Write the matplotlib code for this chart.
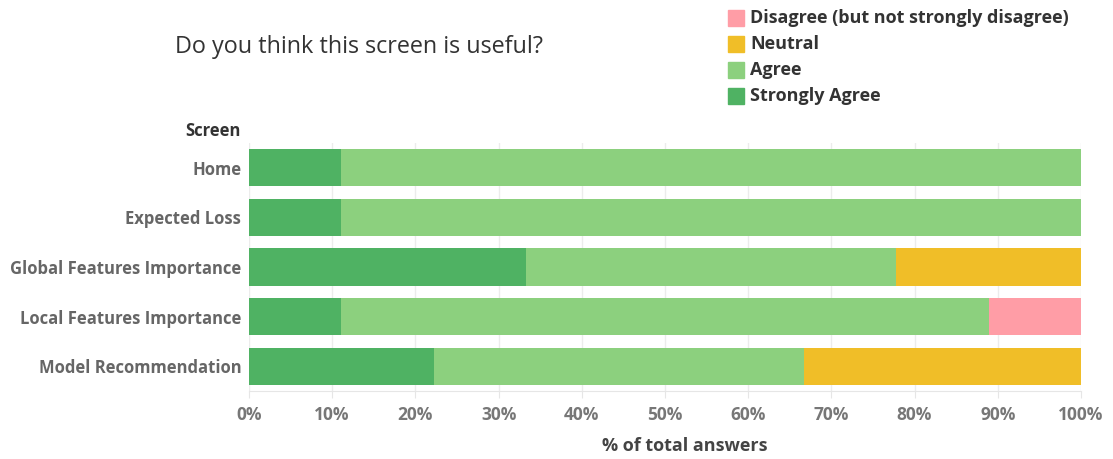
import matplotlib.pyplot as plt
from matplotlib.patches import Rectangle
from matplotlib.ticker import FuncFormatter

plt.rcParams['font.family'] = ['Open Sans', 'DejaVu Sans']

# share of answers per screen (9 respondents)
screens = ["Home", "Expected Loss", "Global Features Importance",
           "Local Features Importance", "Model Recommendation"]
strongly_agree = [11.11, 11.11, 33.33, 11.11, 22.22]
agree = [88.89, 88.89, 44.44, 77.78, 44.44]
neutral = [0.0, 0.0, 22.22, 0.0, 33.33]
disagree = [0.0, 0.0, 0.0, 11.11, 0.0]

answer_labels = ["Disagree (but not strongly disagree)", "Neutral", "Agree", "Strongly Agree"]
answer_colors = ["#ff9da6", "#f0be28", "#8cd07e", "#4fb263"]

fig = plt.figure(figsize=(11.13, 4.59), dpi=100)
ax = fig.add_axes([0.2237, 0.148, 0.7475, 0.5405])

ypos = list(range(len(screens)))
left = [0.0] * len(screens)
for vals, col in [(strongly_agree, answer_colors[3]), (agree, answer_colors[2]),
                  (neutral, answer_colors[1]), (disagree, answer_colors[0])]:
    ax.barh(ypos, vals, left=left, height=0.75, color=col, zorder=2)
    left = [l + v for l, v in zip(left, vals)]

ax.set_xlim(0, 100)
ax.set_ylim(len(screens) - 0.5, -0.5)
ax.set_yticks(ypos)
ax.set_yticklabels(screens, fontsize=12, fontweight='bold', color='#666666')
ax.set_xticks(range(0, 101, 10))
ax.xaxis.set_major_formatter(FuncFormatter(lambda v, p: f"{int(v)}%"))
for lab in ax.get_xticklabels():
    lab.set_fontsize(12.5)
    lab.set_fontweight('bold')
    lab.set_color('#777777')
ax.tick_params(axis='y', length=0, pad=5.5)
ax.tick_params(axis='x', length=5, color='#e6e6e6', pad=6)
ax.grid(axis='x', color='#ececec', linewidth=1, zorder=0)
for s in ['top', 'right', 'left']:
    ax.spines[s].set_visible(False)
ax.spines['bottom'].set_color('#e6e6e6')

fig.text(685 / 1113, 1 - 446 / 459, "% of total answers", ha='center', va='center',
         fontsize=13, fontweight='bold', color='#444444')
fig.text(241 / 1113, 1 - 131 / 459, "Screen", ha='right', va='center',
         fontsize=12, fontweight='bold', color='#333333')
fig.text(175 / 1113, 1 - 47 / 459, "Do you think this screen is useful?",
         ha='left', va='center', fontsize=16.8, color='#333333')

# legend
for i, (lab, col) in enumerate(zip(answer_labels, answer_colors)):
    yc = 18 + 26 * i
    fig.patches.append(Rectangle((728 / 1113, 1 - (yc + 8) / 459), 16 / 1113, 16 / 459,
                                 transform=fig.transFigure, color=col))
    fig.text(750 / 1113, 1 - yc / 459, lab, ha='left', va='center',
             fontsize=13, fontweight='bold', color='#333333')

plt.savefig("out.png", dpi=100)
